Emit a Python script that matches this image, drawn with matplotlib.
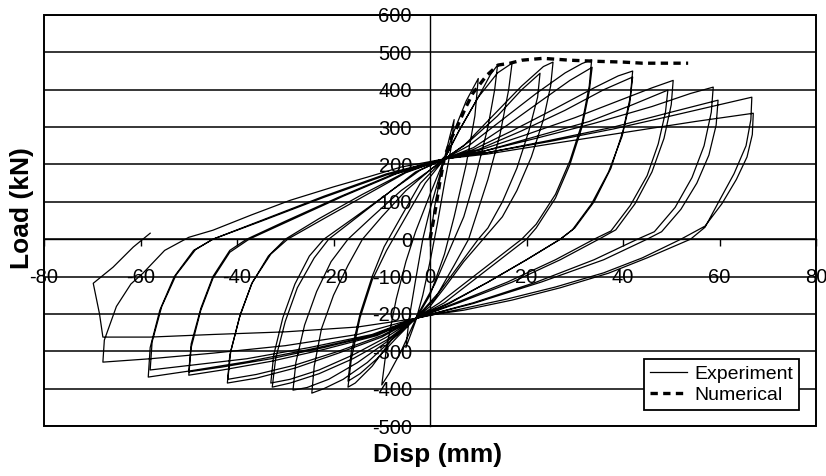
import matplotlib
matplotlib.use("Agg")
import matplotlib.pyplot as plt
from matplotlib.patches import Rectangle

plt.rcParams["font.family"] = ["Liberation Sans", "DejaVu Sans"]
plt.rcParams["axes.unicode_minus"] = False

# ---- experiment: cyclic load-displacement, one list per cycle (mm, kN) ----
cycle_01 = [(0, 0), (1, 90), (2.5, 190), (4, 270), (5, 320), (4.3, 240), (3, 150), (1.5, 40), (0, -60),
            (-1.5, -150), (-3, -220), (-5, -290), (-4.3, -210), (-3, -110), (-1.5, 0), (0, 80), (2, 170), (3, 215)]
cycle_02 = [(5, 290), (7.5, 370), (10, 430), (9.3, 330), (7.5, 200), (5, 60), (3, -40), (0, -150), (-3, -215),
            (-6, -300), (-8.5, -360), (-10, -390), (-9, -290), (-7, -160), (-5, -60), (-3, 20), (0, 120), (3, 215)]
cycle_03 = [(6, 290), (10, 380), (12.5, 440), (14, 466), (13.4, 400), (12, 300), (9.5, 170), (7, 60), (5, 0),
            (1, -120), (-3, -212), (-8, -270), (-12, -340), (-15.5, -385), (-17, -396), (-16.3, -320),
            (-14.5, -210), (-12, -110), (-9, -30), (-5, 60), (-1, 150), (3, 215)]
cycle_04 = [(6, 290), (10, 380), (14, 445), (17, 471), (16.3, 400), (14.5, 280), (12, 160), (9.5, 60), (8, 0),
            (5, -70), (1, -160), (-3, -212), (-7, -265), (-11, -320), (-14.5, -360), (-17, -380), (-16.3, -300),
            (-14.5, -200), (-12, -100), (-9.5, -20), (-6, 60), (-2, 150), (3, 215)]
cycle_05 = [(7, 250), (13, 330), (19, 410), (23.5, 462), (25.5, 474), (25, 410), (23.5, 320), (21, 220),
            (18, 130), (15, 60), (11, 0), (7, -60), (3, -130), (0, -180), (-3, -212), (-8, -270), (-13, -330),
            (-18, -375), (-22, -400), (-24.5, -412), (-24, -340), (-22.5, -240), (-20, -150), (-17, -70),
            (-14, 0), (-10, 60), (-5, 130), (0, 185), (3, 215)]
cycle_06 = [(8, 260), (14, 330), (19, 400), (22.8, 444), (22.3, 380), (20.5, 290), (18, 190), (15, 100),
            (12, 30), (10, 0), (6, -70), (2, -140), (-3, -212), (-9, -275), (-15, -330), (-21, -375),
            (-25.5, -397), (-28.4, -404), (-27.8, -330), (-26, -230), (-23.5, -140), (-20.5, -60), (-17, 0),
            (-12, 60), (-6, 130), (0, 185), (3, 215)]
cycle_07 = [(8, 250), (15, 320), (22, 390), (28, 445), (31.5, 470), (33.5, 480), (33, 410), (31.5, 310),
            (29, 210), (26, 120), (22, 40), (19, 0), (14, -50), (8, -110), (2, -170), (-3, -212), (-9, -270),
            (-16, -320), (-23, -360), (-29, -385), (-32.7, -396), (-32, -320), (-30, -220), (-27.5, -130),
            (-24, -50), (-21, 0), (-15, 60), (-8, 130), (-2, 185), (3, 215)]
cycle_08 = [(9, 245), (16, 305), (23, 370), (29, 425), (33.6, 460), (33, 395), (31.5, 300), (29, 200),
            (26, 110), (22, 30), (20, 0), (15, -50), (9, -110), (3, -170), (-3, -212), (-9, -262), (-16, -310),
            (-23, -350), (-29, -375), (-33, -385), (-32.4, -310), (-30.5, -210), (-28, -120), (-25, -45),
            (-22, 0), (-16, 55), (-9, 120), (-3, 180), (3, 215)]
cycle_09 = [(9, 240), (17, 290), (26, 350), (34, 405), (39, 437), (42, 450), (41.5, 380), (40, 290),
            (37.5, 190), (34, 100), (30, 30), (27, 0), (20, -55), (12, -115), (4, -170), (-3, -212),
            (-10, -262), (-19, -305), (-28, -345), (-36, -372), (-42, -385), (-41.5, -310), (-39.5, -210),
            (-37, -120), (-33.5, -45), (-30, 0), (-23, 55), (-14, 120), (-5, 180), (3, 215)]
cycle_10 = [(10, 240), (19, 290), (28, 345), (36, 400), (42, 434), (41.4, 365), (39.8, 275), (37, 180),
            (33.5, 95), (29.5, 25), (27, 0), (20, -55), (12, -115), (4, -172), (-3, -212), (-10, -258),
            (-19, -300), (-28, -337), (-36, -362), (-41.9, -375), (-41.3, -300), (-39.3, -200), (-36.8, -115),
            (-33, -40), (-29.5, 0), (-22, 55), (-13, 120), (-5, 178), (3, 215)]
cycle_11 = [(10, 237), (20, 280), (30, 325), (40, 375), (46, 405), (50.4, 425), (50, 360), (48.5, 270),
            (46, 180), (42.5, 95), (38.5, 25), (35, 0), (27, -55), (17, -115), (6, -170), (-3, -212),
            (-11, -258), (-22, -295), (-33, -327), (-43, -350), (-50, -364), (-49.5, -290), (-47.5, -190),
            (-45, -105), (-41.5, -35), (-37.5, 0), (-29, 50), (-18, 115), (-7, 175), (3, 215)]
cycle_12 = [(11, 235), (22, 275), (33, 315), (42, 360), (49.3, 399), (48.8, 340), (47.3, 255), (45, 170),
            (41.5, 90), (37.5, 22), (34, 0), (26, -55), (16, -115), (5, -172), (-3, -212), (-11, -255),
            (-22, -290), (-33, -320), (-43, -342), (-50, -355), (-49.5, -280), (-47.5, -185), (-45, -100),
            (-41.5, -30), (-38, 0), (-30, 48), (-19, 112), (-8, 172), (3, 215)]
cycle_13 = [(11, 235), (22, 270), (34, 310), (46, 355), (54, 390), (58.7, 407), (58.3, 340), (56.8, 250),
            (54.3, 165), (50.8, 85), (46.5, 20), (43, 0), (34, -55), (22, -115), (9, -170), (-3, -212),
            (-12, -258), (-25, -295), (-38, -328), (-50, -353), (-58.4, -369), (-58, -290), (-56, -190),
            (-53, -100), (-49, -30), (-45, 0), (-35, 50), (-22, 115), (-9, 175), (3, 215)]
cycle_14 = [(12, 232), (25, 265), (38, 300), (50, 340), (59.7, 372), (59.3, 305), (57.8, 225), (55.3, 150),
            (52, 80), (48, 20), (45, 0), (36, -55), (23, -115), (9, -172), (-3, -212), (-12, -255),
            (-25, -290), (-38, -320), (-50, -338), (-58, -350), (-57.6, -275), (-55.6, -180), (-52.6, -95),
            (-48.6, -28), (-45, 0), (-35, 48), (-22, 112), (-9, 172), (3, 215)]
cycle_15 = [(12, 232), (25, 262), (38, 295), (50, 330), (60, 360), (66.7, 380), (66.5, 320), (65.5, 250),
            (63, 175), (60, 104), (57, 32), (54, 0), (45, -50), (37, -91), (27, -130), (17, -163), (7, -190),
            (0, -203), (-3, -212), (-15, -255), (-30, -285), (-45, -305), (-58, -320), (-67.8, -329),
            (-67.5, -270), (-65, -180), (-62, -120), (-59.5, -91), (-55, -30), (-50, 5), (-45, 24), (-37, 65),
            (-29, 104), (-20, 140), (-13, 166), (-6, 193), (3, 215)]
cycle_16 = [(12, 228), (25, 255), (40, 285), (55, 315), (67, 337), (66.8, 280), (65.7, 220), (63.5, 160),
            (60.5, 95), (57, 35), (52, 0), (44, -50), (36, -90), (26, -128), (16, -160), (6, -188), (-3, -212),
            (-15, -235), (-30, -248), (-45, -255), (-58, -262), (-67.8, -262), (-68.5, -200), (-69.8, -118),
            (-65.7, -75), (-61.5, -21), (-58, 16)]

# ---- numerical envelope ----
num_disp = [0, 1, 2, 3, 4.5, 5.5, 7.3, 8.9, 11.8, 14.1, 16.6, 19, 23.4, 29, 34.6, 40, 44, 48.3, 53.5]
num_load = [0, 70, 150, 219, 273, 297, 350, 391, 439, 466, 471, 479, 484, 479, 476, 474, 471, 471, 471]

x_ticks = [-80, -60, -40, -20, 0, 20, 40, 60, 80]
y_ticks = [-500, -400, -300, -200, -100, 0, 100, 200, 300, 400, 500, 600]

cycles = [cycle_01, cycle_02, cycle_03, cycle_04, cycle_05, cycle_06, cycle_07, cycle_08,
          cycle_09, cycle_10, cycle_11, cycle_12, cycle_13, cycle_14, cycle_15, cycle_16]
exp_pts = [p for c in cycles for p in c]
exp_disp = [p[0] for p in exp_pts]
exp_load = [p[1] for p in exp_pts]

fig = plt.figure(figsize=(8.26, 4.76), dpi=100)
ax = fig.add_axes([0.0533, 0.105, 0.9346, 0.8635])

ax.plot(exp_disp, exp_load, color="black", lw=0.9, label="Experiment", zorder=3)
ax.plot(num_disp, num_load, color="black", lw=2.4, ls=(0, (2.2, 1.6)), label="Numerical", zorder=4)

ax.set_xlim(-80, 80)
ax.set_ylim(-500, 600)
ax.set_xticks(x_ticks)
ax.set_yticks(y_ticks)

# axes cross at the origin, outer frame drawn separately
for s in ("left", "bottom"):
    ax.spines[s].set_position(("data", 0))
    ax.spines[s].set_linewidth(1.0)
for s in ("top", "right"):
    ax.spines[s].set_visible(False)
ax.add_patch(Rectangle((0, 0), 1, 1, transform=ax.transAxes, fill=False, ec="black", lw=1.4,
                       clip_on=False, zorder=5))

ax.grid(axis="y", color="black", lw=1.1)
ax.tick_params(axis="x", direction="out", length=5, width=1, pad=16, labelsize=14.5)
ax.tick_params(axis="y", length=0, pad=13, labelsize=14.5)

fig.text(0.027, 0.563, "Load (kN)", rotation=90, ha="center", va="center", fontsize=19, fontweight="bold")
fig.text(0.530, 0.045, "Disp (mm)", ha="center", va="center", fontsize=19, fontweight="bold")

leg = ax.legend(loc="lower right", bbox_to_anchor=(0.978, 0.039), fontsize=14, frameon=True,
                fancybox=False, edgecolor="black", framealpha=1, handlelength=1.9, handletextpad=0.4,
                borderpad=0.3, labelspacing=0.2, borderaxespad=0)
leg.get_frame().set_linewidth(1.3)

fig.savefig("out.png", dpi=100)
